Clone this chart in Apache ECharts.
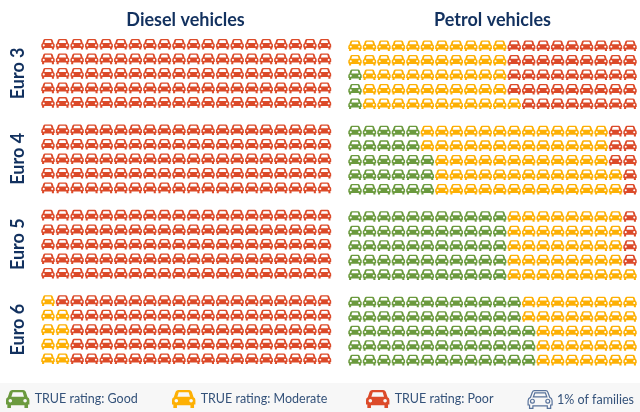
<!DOCTYPE html>
<html>
<head>
<meta charset="utf-8">
<script src="https://cdn.jsdelivr.net/npm/echarts@6/dist/echarts.min.js"></script>
<style>html,body{margin:0;padding:0;background:#fff}#c{width:640px;height:412px}</style>
</head>
<body>
<div id="c"></div>
<script>
// Each row: [good, moderate, poor] cars out of 20
const euroLabels = ['Euro 3', 'Euro 4', 'Euro 5', 'Euro 6'];
const panelTitles = ['Diesel vehicles', 'Petrol vehicles'];
const ratingNames = ['TRUE rating: Good', 'TRUE rating: Moderate', 'TRUE rating: Poor'];
const familyName = '1% of families';
const ratingColors = ['#6b9a3e', '#fdb004', '#dc4a29'];

const dieselEuro3 = [[0,0,20],[0,0,20],[0,0,20],[0,0,20],[0,0,20]];
const dieselEuro4 = [[0,0,20],[0,0,20],[0,0,20],[0,0,20],[0,0,20]];
const dieselEuro5 = [[0,0,20],[0,0,20],[0,0,20],[0,0,20],[0,0,20]];
const dieselEuro6 = [[0,1,19],[0,2,18],[0,2,18],[0,2,18],[0,2,18]];

const petrolEuro3 = [[0,11,9],[0,11,9],[1,10,9],[1,10,9],[1,11,8]];
const petrolEuro4 = [[5,13,2],[5,13,2],[6,12,2],[6,13,1],[6,13,1]];
const petrolEuro5 = [[11,8,1],[11,8,1],[11,8,1],[11,8,1],[11,9,0]];
const petrolEuro6 = [[12,8,0],[12,8,0],[13,7,0],[13,7,0],[13,7,0]];

const panels = [
  [dieselEuro3, dieselEuro4, dieselEuro5, dieselEuro6],
  [petrolEuro3, petrolEuro4, petrolEuro5, petrolEuro6]
];

const carPath = 'path://M7 0L19 0Q21 0 22 2L24 8Q26 9 26 11L26 16L24.5 16L24.5 20L20.5 20L20.5 17L5.5 17L5.5 20L1.5 20L1.5 16L0 16L0 11Q0 9 2 8L4 2Q5 0 7 0Z' +
  'M7.5 2.4L6 7.4L20 7.4L18.5 2.4Z' +
  'M2.8 12A2 2 0 0 0 6.8 12A2 2 0 0 0 2.8 12Z' +
  'M19.2 12A2 2 0 0 0 23.2 12A2 2 0 0 0 19.2 12Z';
const outlinePath = 'path://M7 1L19 1Q20.5 1 21 2.5L23 8Q25.5 9 25.5 11.5L25.5 16L24 16L24 19.5L20.5 19.5L20.5 17L5.5 17L5.5 19.5L2 19.5L2 16L0.5 16L0.5 11.5Q0.5 9 3 8L5 2.5Q5.5 1 7 1ZM7.5 3.4L6 7.6L20 7.6L18.5 3.4Z' +
  'M3 12A2 2 0 1 0 7 12A2 2 0 1 0 3 12ZM19 12A2 2 0 1 0 23 12A2 2 0 1 0 19 12Z';

const groupStep = 5.88;
const yMax = 3 * groupStep + 4;
const fontFamily = 'Lato';
const navy = '#12315f';

const series = [];
panels.forEach((blocks, p) => {
  ratingNames.forEach((name, k) => {
    const data = [];
    blocks.forEach((rows, g) => {
      rows.forEach((row, r) => {
        const start = k === 0 ? 0 : (k === 1 ? row[0] : row[0] + row[1]);
        for (let i = 0; i < row[k]; i++) data.push([start + i, g * groupStep + r]);
      });
    });
    series.push({
      type: 'scatter', name, xAxisIndex: p, yAxisIndex: p, data, clip: false,
      symbol: carPath, symbolSize: [13.4, 10.6], symbolKeepAspect: false,
      itemStyle: { color: ratingColors[k], opacity: 1 }, silent: true, animation: false
    });
  });
});
series.push({ type: 'scatter', name: familyName, xAxisIndex: 0, yAxisIndex: 0, data: [], silent: true, animation: false });

const legendSpots = [6, 172, 366, 527.5];
const legendItems = ratingNames.map((name, k) => ({
  name, icon: carPath, itemStyle: { color: ratingColors[k], borderWidth: 0 }
}));
legendItems.push({
  name: familyName, icon: outlinePath,
  itemStyle: { color: 'rgba(0,0,0,0)', borderColor: '#2f5083', borderWidth: 1.2 }
});

const yAxisBase = (showLabels) => ({
  type: 'value', inverse: true, min: 0, max: yMax,
  axisLine: { show: false }, axisTick: { show: false }, splitLine: { show: false },
  axisLabel: showLabels ? {
    show: true, rotate: 90, margin: 21, fontFamily, fontWeight: 'bold', fontSize: 18, color: navy,
    customValues: euroLabels.map((_, g) => g * groupStep + 2),
    formatter: (v) => euroLabels[Math.round((v - 2) / groupStep)]
  } : { show: false }
});
const xAxisBase = () => ({ type: 'value', min: 0, max: 19, show: false });

const chart = echarts.init(document.getElementById('c'), null, { renderer: 'canvas' });
chart.setOption({
  animation: false,
  backgroundColor: '#fff',
  graphic: [{ type: 'rect', z: -1, shape: { x: 0, y: 383, width: 640, height: 29 }, style: { fill: '#f7f7f7' } }],
  title: panelTitles.map((text, i) => ({
    text, left: [185.5, 492.5][i], top: 11, padding: 0, textAlign: 'center',
    textStyle: { fontFamily, fontWeight: 'bold', fontSize: 18, color: navy }
  })),
  grid: [
    { left: 48, width: 276.5, top: 44.3, height: 314.4 },
    { left: 355, width: 275, top: 45.7, height: 314.4 }
  ],
  xAxis: [xAxisBase(), xAxisBase()].map((a, i) => Object.assign(a, { gridIndex: i })),
  yAxis: [yAxisBase(true), yAxisBase(false)].map((a, i) => Object.assign(a, { gridIndex: i })),
  legend: legendItems.map((item, i) => ({
    data: [item], left: legendSpots[i], top: 390, itemWidth: 24, itemHeight: 18,
    padding: 0, itemGap: 0, selectedMode: false,
    textStyle: { fontFamily, fontSize: 12.5, color: '#34527a', padding: [2, 0, 0, 0] }
  })),
  series
});
</script>
</body>
</html>
